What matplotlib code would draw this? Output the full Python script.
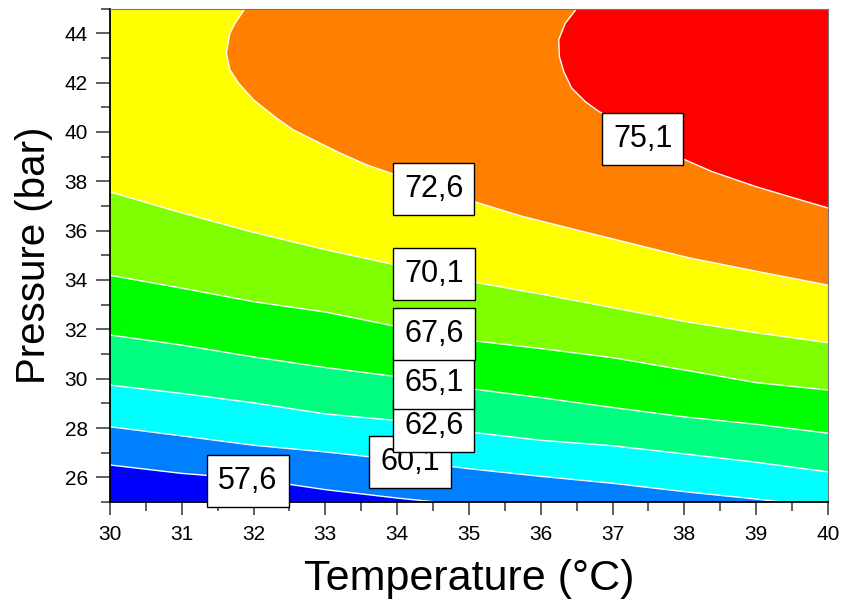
import matplotlib.pyplot as plt
from matplotlib.ticker import MultipleLocator

plt.rcParams['font.family'] = ['Liberation Sans', 'DejaVu Sans']

# niveles de las curvas y colores de cada banda (de abajo hacia arriba)
niveles = [57.6, 60.1, 62.6, 65.1, 67.6, 70.1, 72.6, 75.1]
colores = ['#0000FF', '#0080FF', '#00FFFF', '#00FF80', '#00FF00',
           '#80FF00', '#FFFF00', '#FF8000', '#FF0000']

# curvas de nivel (Temperatura, Presion)
T_576 = [30, 31, 32, 33, 34, 34.55]
P_576 = [26.50, 26.16, 25.93, 25.50, 25.16, 25.0]

T_601 = [30, 31, 32, 33, 34, 35, 36, 37, 38, 39, 39.36]
P_601 = [28.05, 27.68, 27.30, 27.03, 26.71, 26.35, 26.04, 25.76, 25.42, 25.12, 25.0]

T_626 = [30, 31, 32, 33, 34, 35, 36, 37, 38, 39, 40]
P_626 = [29.74, 29.40, 29.02, 28.57, 28.30, 27.84, 27.50, 27.28, 26.95, 26.61, 26.22]

T_651 = [30, 31, 32, 33, 34, 35, 36, 37, 38, 39, 40]
P_651 = [31.77, 31.36, 30.88, 30.45, 30.08, 29.60, 29.23, 28.83, 28.45, 28.15, 27.79]

T_676 = [30, 31, 32, 33, 34, 35, 36, 37, 38, 39, 40]
P_676 = [34.19, 33.67, 33.12, 32.70, 32.11, 31.56, 31.22, 30.85, 30.35, 29.84, 29.54]

T_701 = [30, 31, 32, 33, 34, 35, 36, 37, 38, 39, 40]
P_701 = [37.57, 36.72, 35.93, 35.23, 34.60, 33.95, 33.43, 32.88, 32.32, 31.86, 31.46]

T_726 = [31.88, 31.74, 31.67, 31.62, 31.67, 31.79, 32.00, 32.32, 32.55, 32.88, 33.20,
         33.57, 33.90, 35.09, 35.74, 36.48, 37.41, 38.06, 38.99, 40.0]
P_726 = [45.0, 44.40, 44.00, 43.19, 42.52, 41.98, 41.30, 40.56, 40.09, 39.61, 39.15,
         38.67, 38.34, 37.16, 36.58, 36.04, 35.37, 34.90, 34.36, 33.79]

T_751 = [36.50, 36.34, 36.25, 36.26, 36.32, 36.43, 36.62, 36.81, 38.01, 38.38,
         38.99, 39.45, 40.0]
P_751 = [45.0, 44.40, 43.73, 43.05, 42.45, 41.78, 41.23, 40.83, 38.87, 38.40,
         37.79, 37.39, 36.92]

curvas = [(T_576, P_576), (T_601, P_601), (T_626, P_626), (T_651, P_651),
          (T_676, P_676), (T_701, P_701), (T_726, P_726), (T_751, P_751)]

# posiciones de las etiquetas
etiqueta_T = [31.92, 34.18, 34.51, 34.51, 34.51, 34.51, 34.51, 37.42]
etiqueta_P = [25.86, 26.63, 28.09, 29.83, 31.82, 34.25, 37.69, 39.70]

Tmin, Tmax, Pmin, Pmax = 30, 40, 25, 45

fig = plt.figure(figsize=(8.44, 6.01), dpi=100)
ax = fig.add_axes([0.1303, 0.1647, 0.8507, 0.821])

# fondo: banda mas alta
ax.fill([Tmin, Tmax, Tmax, Tmin], [Pmin, Pmin, Pmax, Pmax], color=colores[-1], lw=0)

# cada banda = region debajo de la curva, de arriba hacia abajo
for i in range(len(curvas) - 1, -1, -1):
    T, P = curvas[i]
    xs = list(T)
    ys = list(P)
    if ys[-1] == Pmin:
        xs += [Tmin]
        ys += [Pmin]
    else:
        xs += [Tmax, Tmin]
        ys += [Pmin, Pmin]
    if ys[0] == Pmax:
        xs += [Tmin]
        ys += [Pmax]
    ax.fill(xs, ys, color=colores[i], lw=0)

for T, P in curvas:
    ax.plot(T, P, color='white', lw=1)

for i, nivel in enumerate(niveles):
    ax.text(etiqueta_T[i], etiqueta_P[i], ('%.1f' % nivel).replace('.', ','),
            ha='center', va='center', fontsize=22, zorder=10 + i, clip_on=False,
            bbox=dict(boxstyle='square,pad=0.36', fc='white', ec='black', lw=1))

ax.set_xlim(Tmin, Tmax)
ax.set_ylim(Pmin, Pmax)
ax.xaxis.set_major_locator(MultipleLocator(1))
ax.xaxis.set_minor_locator(MultipleLocator(0.5))
ax.yaxis.set_major_locator(MultipleLocator(2))
ax.yaxis.set_minor_locator(MultipleLocator(1))
ax.set_yticks(range(26, 45, 2))

ax.tick_params(which='both', direction='out', color='#444444', width=1.2)
ax.tick_params(axis='y', which='major', length=10, pad=6, labelsize=15)
ax.tick_params(axis='y', which='minor', length=6.5)
ax.tick_params(axis='x', which='major', length=9.5, pad=7, labelsize=15)
ax.tick_params(axis='x', which='minor', length=6.5)

for lado in ['top', 'right']:
    ax.spines[lado].set_color('#777777')
for lado in ['left', 'bottom']:
    ax.spines[lado].set_color('black')
    ax.spines[lado].set_linewidth(1.3)

ax.set_xlabel('Temperature (°C)', fontsize=31, labelpad=11)
ax.set_ylabel('Pressure (bar)', fontsize=29, labelpad=8)

plt.savefig('out.png', dpi=100)
